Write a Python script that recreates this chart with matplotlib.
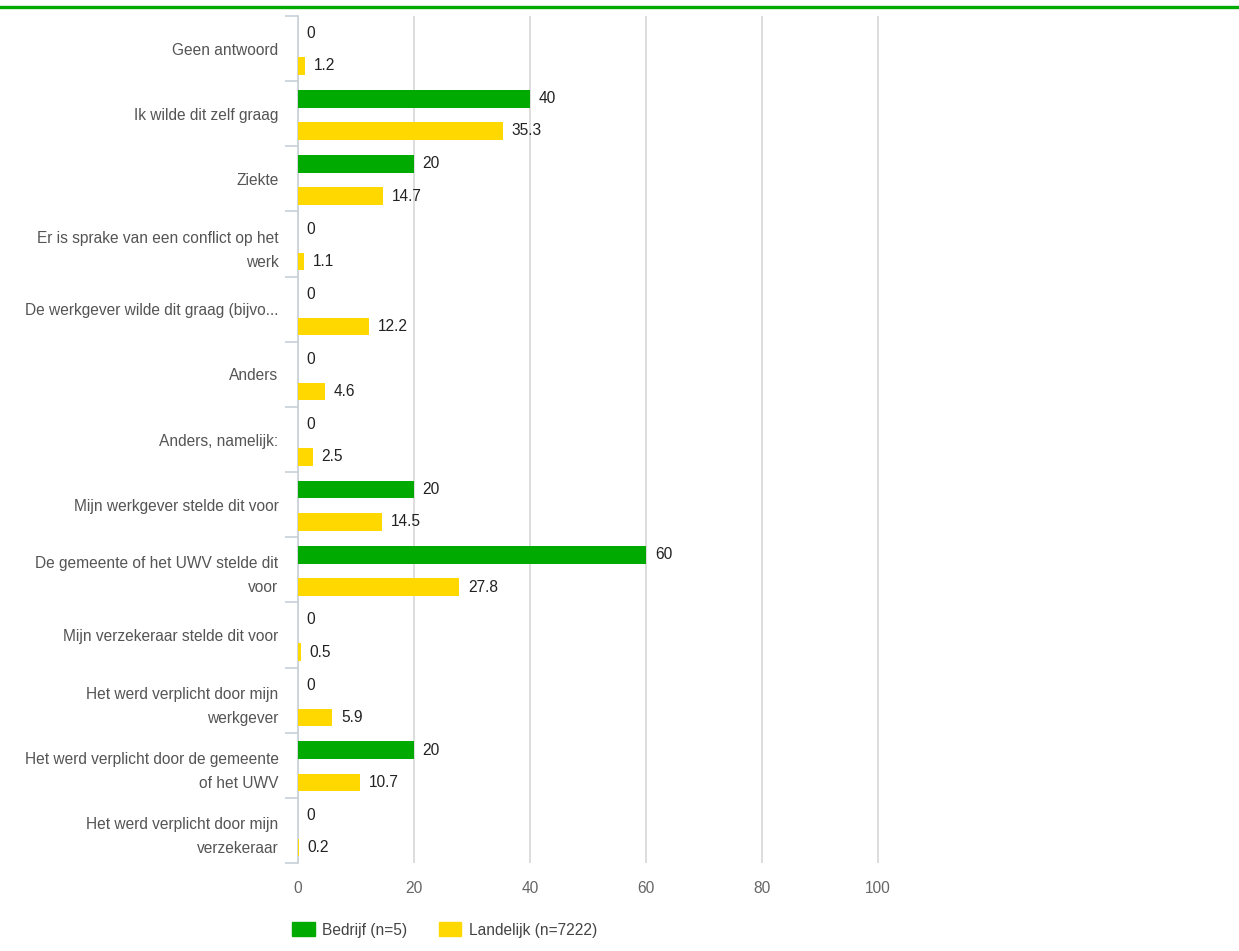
import matplotlib
matplotlib.use("Agg")
import matplotlib.pyplot as plt
import numpy as np
from matplotlib.lines import Line2D
from matplotlib.patches import Patch

plt.rcParams['font.family'] = ['Liberation Sans', 'DejaVu Sans']

# data
categories = [
    "Geen antwoord",
    "Ik wilde dit zelf graag",
    "Ziekte",
    "Er is sprake van een conflict op het\nwerk",
    "De werkgever wilde dit graag (bijvo...",
    "Anders",
    "Anders, namelijk:",
    "Mijn werkgever stelde dit voor",
    "De gemeente of het UWV stelde dit\nvoor",
    "Mijn verzekeraar stelde dit voor",
    "Het werd verplicht door mijn\nwerkgever",
    "Het werd verplicht door de gemeente\nof het UWV",
    "Het werd verplicht door mijn\nverzekeraar",
]
bedrijf = [0, 40, 20, 0, 0, 0, 0, 20, 60, 0, 0, 20, 0]
landelijk = [1.2, 35.3, 14.7, 1.1, 12.2, 4.6, 2.5, 14.5, 27.8, 0.5, 5.9, 10.7, 0.2]
series_names = ["Bedrijf (n=5)", "Landelijk (n=7222)"]
x_ticks = [0, 20, 40, 60, 80, 100]

GREEN = '#00AA00'
YELLOW = '#FFD800'
FS = 11.2

W, H = 1239, 951
fig = plt.figure(figsize=(W / 100, H / 100), dpi=100)
ax = fig.add_axes([298 / W, 1 - 863 / H, (881 - 298) / W, (863 - 16) / H])

y = np.arange(len(categories))
h = 0.27
ax.barh(y - 0.23, bedrijf, height=h, color=GREEN, zorder=3)
ax.barh(y + 0.265, landelijk, height=h, color=YELLOW, zorder=3)

for yi, v in zip(y, bedrijf):
    ax.text(v + 1.5, yi - 0.23, f"{v:g}", va='center', ha='left', fontsize=FS, color='#222222')
for yi, v in zip(y, landelijk):
    ax.text(v + 1.5, yi + 0.265, f"{v:g}", va='center', ha='left', fontsize=FS, color='#222222')

ax.set_xlim(0, 100.5)
ax.set_ylim(len(categories) - 0.5, -0.5)
ax.set_xticks(x_ticks)
ax.set_xticklabels([str(t) for t in x_ticks])
ax.tick_params(axis='x', length=0, pad=13, labelsize=FS, labelcolor='#666666')
ax.grid(axis='x', color='#dadada', linewidth=1.3, zorder=0)

ax.set_yticks(y)
ax.set_yticklabels(categories, fontsize=FS, color='#555555', linespacing=1.75)
ax.tick_params(axis='y', which='major', length=0, pad=14)
ax.set_yticks(np.arange(-0.5, len(categories)), minor=True)
ax.tick_params(axis='y', which='minor', length=9.5, width=1.2, color='#c8d0d8')

for s in ['top', 'right', 'bottom']:
    ax.spines[s].set_visible(False)
ax.spines['left'].set_color('#c8d0d8')
ax.spines['left'].set_linewidth(1.2)

# top green rule
fig.add_artist(Line2D([0, 1], [1 - 7 / H, 1 - 7 / H], color=GREEN, linewidth=2.4,
                      transform=fig.transFigure))

handles = [Patch(facecolor=GREEN, edgecolor=GREEN), Patch(facecolor=YELLOW, edgecolor=YELLOW)]
fig.legend(handles, series_names, loc='center left', bbox_to_anchor=(292 / W, 1 - 930 / H),
           ncol=2, frameon=False, fontsize=FS, borderpad=0, borderaxespad=0,
           handlelength=1.45, handleheight=0.95, handletextpad=0.5, columnspacing=2.0,
           labelcolor='#444444')

fig.savefig("out.png", dpi=100)
